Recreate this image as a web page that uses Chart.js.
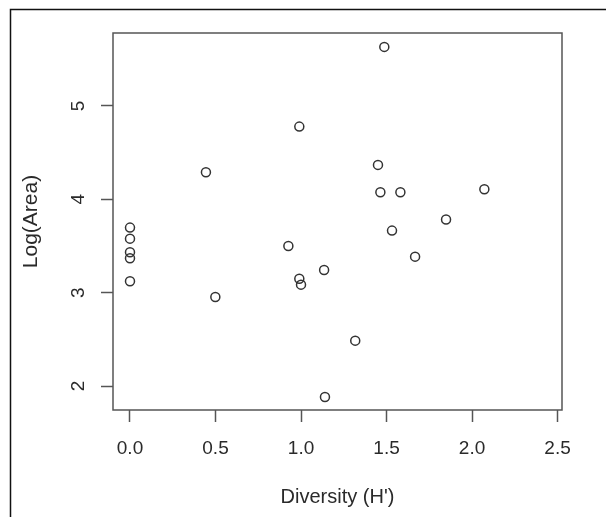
<!DOCTYPE html>
<html>
<head>
<meta charset="utf-8">
<script src="https://cdn.jsdelivr.net/npm/chart.js@4/dist/chart.umd.min.js"></script>
<style>
  html, body { margin: 0; padding: 0; background: #fff; }
  #wrap { width: 606px; height: 517px; }
</style>
</head>
<body>
<div id="wrap"><canvas id="c" width="606" height="517"></canvas></div>
<script>
// Data
const diversity = [0, 0, 0, 0, 0, 0.444, 0.499, 0.926, 0.990, 0.990, 1.000, 1.135, 1.140, 1.317, 1.450, 1.464, 1.487, 1.532, 1.581, 1.667, 1.848, 2.072];
const logArea   = [3.697, 3.579, 3.433, 3.369, 3.122, 4.290, 2.954, 3.500, 4.779, 3.150, 3.086, 3.243, 1.882, 2.486, 4.369, 4.076, 5.633, 3.665, 4.076, 3.386, 3.783, 4.108];
const xTicks = [0, 0.5, 1.0, 1.5, 2.0, 2.5];
const yTicks = [2, 3, 4, 5];
const xTitle = "Diversity (H')";
const yTitle = "Log(Area)";

const FONT = "'Liberation Sans', Arial, Helvetica, sans-serif";
const TXT = '#2a2a2a';
const AXIS = '#555';

const points = diversity.map((x, i) => ({ x: x, y: logArea[i] }));

const decor = {
  id: 'decor',
  afterDraw(chart) {
    const ctx = chart.ctx;
    const a = chart.chartArea;
    ctx.save();
    // plot box
    ctx.strokeStyle = AXIS;
    ctx.lineWidth = 1.5;
    ctx.strokeRect(a.left, a.top, a.right - a.left, a.bottom - a.top);
    // outer frame (cropped at right and bottom)
    ctx.strokeStyle = '#111';
    ctx.lineWidth = 1.5;
    ctx.beginPath();
    ctx.moveTo(10.5, 517);
    ctx.lineTo(10.5, 9.5);
    ctx.lineTo(606, 9.5);
    ctx.stroke();
    // rotated y tick labels (R style)
    const ys = chart.scales.y;
    ctx.fillStyle = TXT;
    ctx.font = '19px ' + FONT;
    ctx.textAlign = 'center';
    ctx.textBaseline = 'middle';
    yTicks.forEach(v => {
      ctx.save();
      ctx.translate(79, ys.getPixelForValue(v));
      ctx.rotate(-Math.PI / 2);
      ctx.fillText(String(v), 0, 0);
      ctx.restore();
    });
    ctx.restore();
  }
};

new Chart(document.getElementById('c'), {
  type: 'scatter',
  data: {
    datasets: [{
      data: points,
      pointStyle: 'circle',
      pointRadius: 4.5,
      pointHoverRadius: 4.5,
      borderWidth: 1.5,
      borderColor: '#333',
      backgroundColor: 'rgba(0,0,0,0)'
    }]
  },
  options: {
    responsive: false,
    animation: false,
    events: [],
    layout: { padding: { left: 0, right: 44, top: 33, bottom: 0 } },
    plugins: { legend: { display: false }, tooltip: { enabled: false } },
    scales: {
      x: {
        type: 'linear',
        min: -0.0994,
        max: 2.526,
        afterBuildTicks: s => { s.ticks = xTicks.map(v => ({ value: v })); },
        afterFit: s => { s.height = 107; },
        grid: { drawOnChartArea: false, drawTicks: true, tickLength: 12, tickColor: AXIS, tickWidth: 1.5 },
        border: { display: false },
        ticks: {
          padding: 15,
          color: TXT,
          font: { family: FONT, size: 19 },
          maxRotation: 0,
          callback: v => Number(v).toFixed(1)
        },
        title: {
          display: true,
          text: xTitle,
          color: TXT,
          font: { family: FONT, size: 20 },
          padding: { top: 0, bottom: 8 }
        }
      },
      y: {
        type: 'linear',
        min: 1.743,
        max: 5.782,
        afterBuildTicks: s => { s.ticks = yTicks.map(v => ({ value: v })); },
        afterFit: s => { s.width = 113; },
        grid: { drawOnChartArea: false, drawTicks: true, tickLength: 12, tickColor: AXIS, tickWidth: 1.5 },
        border: { display: false },
        ticks: { display: false },
        title: {
          display: true,
          text: yTitle,
          color: TXT,
          font: { family: FONT, size: 21 },
          padding: { top: 19, bottom: 0 }
        }
      }
    }
  },
  plugins: [decor]
});
</script>
</body>
</html>
